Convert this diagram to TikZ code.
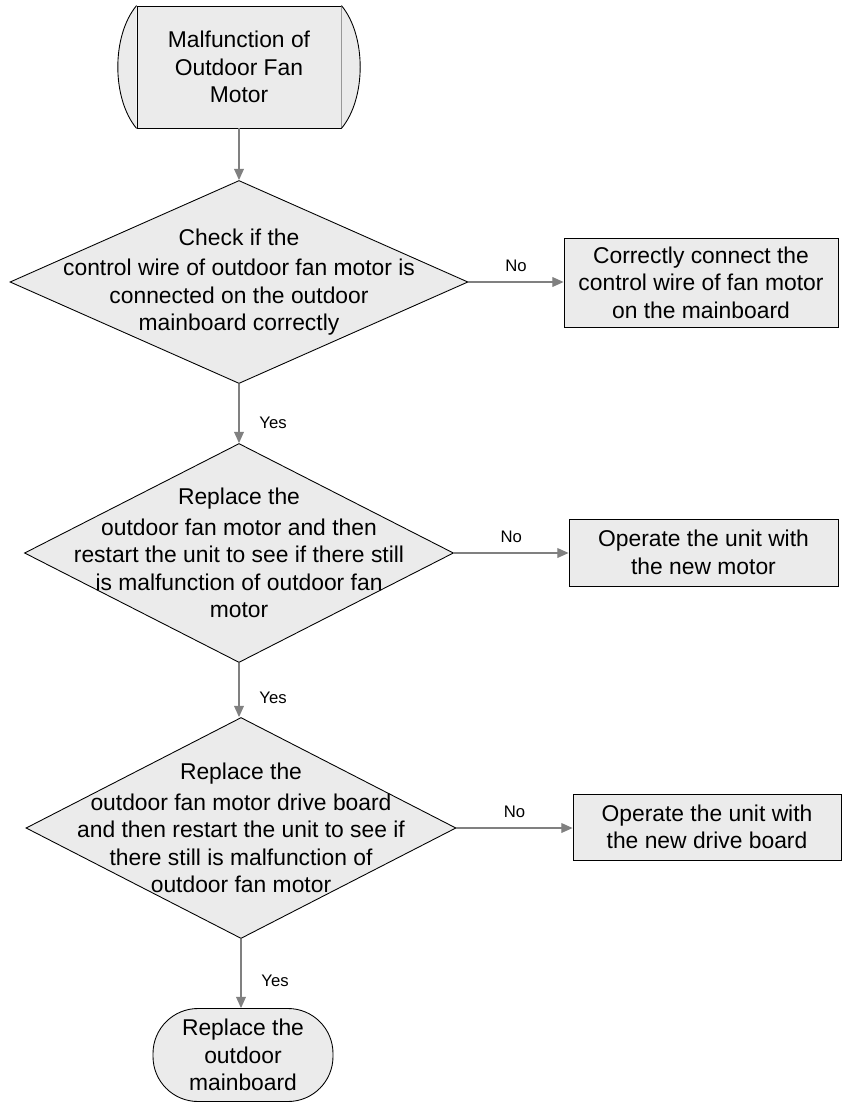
\documentclass[tikz,border=0pt]{standalone}
\usepackage{fontspec}
\setmainfont{Liberation Sans}
\usetikzlibrary{arrows.meta,shapes.geometric}
\definecolor{xfill}{HTML}{EBEBEB}
\definecolor{xline}{HTML}{808080}

\begin{document}
\begin{tikzpicture}[
    flow/.style={draw=xline, line width=0.6pt, -{Triangle[width=5.6pt, length=6.4pt]}},
    txt/.style={align=center, font=\fontsize{13}{15.6}\selectfont},
    startbox/.style={rectangle, draw, fill=xfill, line width=0.5pt, minimum width=4.08cm, minimum height=2.44cm, txt},
    decision/.style n args={2}{diamond, draw, fill=xfill, line width=0.5pt, inner sep=0pt, minimum width=#1, minimum height=#2},
    action/.style n args={2}{rectangle, draw, fill=xfill, line width=0.5pt, minimum width=#1, minimum height=#2, txt},
    terminal/.style={rectangle, rounded corners=0.9cm, draw, fill=xfill, line width=0.5pt, minimum width=3.6cm, minimum height=1.86cm, txt},
    lbl/.style={font=\fontsize{9.5}{11}\selectfont},
]
\useasboundingbox (0,0) rectangle (16.88,-22.08);

% Start
\node[startbox] (start) at (4.78,-1.34) {Malfunction of\\Outdoor Fan\\Motor};
\filldraw[fill=xfill, line width=0.5pt] (start.north west) .. controls +(-0.5,-0.6) and +(-0.5,0.6) .. (start.south west);
\filldraw[fill=xfill, line width=0.5pt] (start.north east) .. controls +(0.5,-0.6) and +(0.5,0.6) .. (start.south east);

% Decisions
\node[decision={9.16cm}{4.06cm}] (wire) at (4.78,-5.64) {};
\node[txt] (wire-t) at (wire) {Check if the\\[2pt]control wire of outdoor fan motor is\\connected on the outdoor\\mainboard correctly};
\node[decision={8.58cm}{4.38cm}] (motor) at (4.78,-11.06) {};
\node[txt] (motor-t) at (motor) {Replace the\\[2pt]outdoor fan motor and then\\restart the unit to see if there still\\is malfunction of outdoor fan\\motor};
\node[decision={8.6cm}{4.42cm}] (drive) at (4.82,-16.56) {};
\node[txt] (drive-t) at (drive) {Replace the\\[2pt]outdoor fan motor drive board\\and then restart the unit to see if\\there still is malfunction of\\outdoor fan motor};

% Actions
\node[action={5.48cm}{1.78cm}] (connect) at (14.02,-5.65) {Correctly connect the\\control wire of fan motor\\on the mainboard};
\node[action={5.38cm}{1.34cm}] (newmotor) at (14.07,-11.05) {Operate the unit with\\the new motor};
\node[action={5.36cm}{1.32cm}] (newdrive) at (14.14,-16.54) {Operate the unit with\\the new drive board};

% End
\node[terminal] (board) at (4.86,-21.1) {Replace the\\outdoor\\mainboard};

% Connectors
\draw[flow] (start.south) -- (start.south |- wire.north);
\draw[flow] (wire.south) -- (wire.south |- motor.north) node[lbl, pos=0.65, right=8pt] (yes1) {Yes};
\draw[flow] (motor.south) -- (motor.south |- drive.north) node[lbl, pos=0.65, right=8pt] (yes2) {Yes};
\draw[flow] (drive.south) -- (drive.south |- board.north) node[lbl, pos=0.6, right=8pt] (yes3) {Yes};
\foreach \d/\a/\n in {wire/connect/no1, motor/newmotor/no2, drive/newdrive/no3} {
    \draw[flow] (\d.east) -- (\d.east -| \a.west) node[lbl, midway, above=2pt] (\n) {No};
}

\end{tikzpicture}
\end{document}
